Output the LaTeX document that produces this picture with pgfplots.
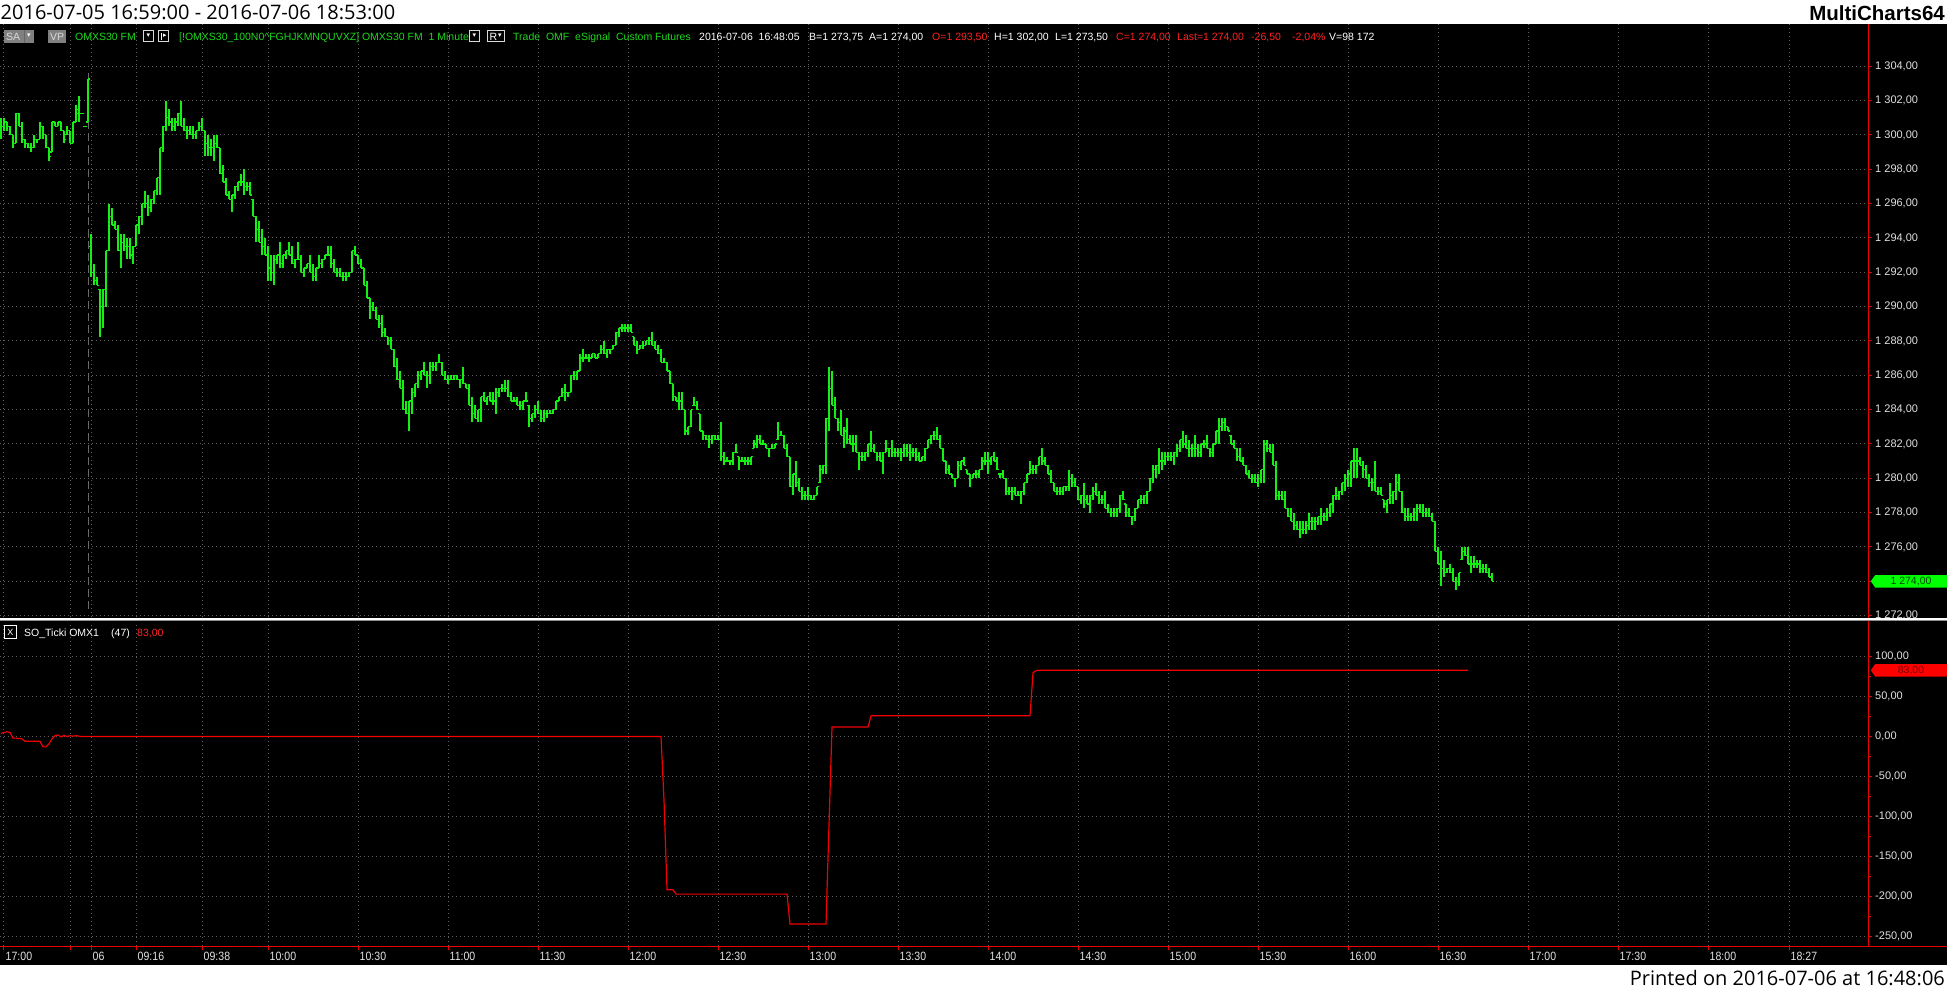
\documentclass[border=0pt]{standalone}
\usepackage{fontspec}
\setmainfont{Liberation Sans}
\newfontfamily\titlefont{Open Sans}
\newfontfamily\narrowfont[FakeStretch=0.88]{Liberation Sans}
\newfontfamily\symfont{DejaVu Sans}
\usepackage{pgfplots}
\usepackage{pgfplotstable}
\pgfplotsset{compat=1.18}
\usetikzlibrary{shapes.symbols}

\definecolor{barGreen}{RGB}{20,240,20}
\definecolor{hdrGreen}{RGB}{30,215,30}
\definecolor{axisRed}{RGB}{235,0,0}
\definecolor{indRed}{RGB}{240,0,0}
\definecolor{gridGray}{RGB}{95,95,95}
\definecolor{lblGray}{RGB}{225,225,225}
\definecolor{hdrRed}{RGB}{255,35,35}
\definecolor{tagGreen}{RGB}{0,255,0}
\definecolor{tagRed}{RGB}{255,0,0}
\definecolor{tagTextG}{RGB}{0,70,0}
\definecolor{tagTextR}{RGB}{120,0,0}
\definecolor{boxGray}{RGB}{128,128,128}
\definecolor{sessGray}{RGB}{105,105,105}

% open / close ticks of an OHLC bar
\pgfdeclareplotmark{otick}{\pgfpathmoveto{\pgfqpoint{-1.8pt}{0pt}}\pgfpathlineto{\pgfqpoint{0pt}{0pt}}\pgfusepathqstroke}
\pgfdeclareplotmark{ctick}{\pgfpathmoveto{\pgfqpoint{0pt}{0pt}}\pgfpathlineto{\pgfqpoint{1.8pt}{0pt}}\pgfusepathqstroke}

% 1-minute bars, i = bar index (09:00 on 07-06 = 28)
\pgfplotstableread{
i o h l c
-1 1300.5 1301 1299.75 1300.5
0 1300.5 1301 1300.25 1300.75
1 1300.75 1300.75 1300.25 1300.5
2 1300.5 1300.5 1300 1300
3 1300 1300 1299.25 1299.5
4 1299.5 1301.25 1299.5 1301.25
5 1301.25 1301.25 1300.5 1300.5
6 1300.5 1300.75 1299.5 1299.75
7 1299.75 1299.75 1299.25 1299.5
8 1299.5 1299.5 1299.25 1299.25
9 1299.25 1299.5 1299 1299.25
10 1299.25 1300 1299.25 1299.75
11 1299.75 1299.75 1299.5 1299.75
12 1299.75 1300.75 1299.75 1300.5
13 1300.5 1300.5 1299.75 1300
14 1300 1300 1299.25 1299.25
15 1299.25 1299.25 1298.5 1298.75
16 1299 1300.75 1299 1300.75
17 1300.75 1300.75 1300.5 1300.5
18 1300.5 1300.75 1300.5 1300.75
19 1300.75 1300.75 1300.25 1300.25
20 1300.25 1300.25 1299.5 1299.75
21 1300 1300.5 1300 1300.25
22 1300.25 1300.25 1299.5 1299.5
23 1299.5 1300.75 1299.5 1300.75
24 1300.75 1301.75 1300.75 1301.5
25 1301.25 1302.25 1300.75 1301.25
26 1301.25 1301.25 1301.25 1301.25
27 1300.5 1300.5 1300.5 1300.5
28 1300.75 1303.25 1300.75 1303.25
29 1293.5 1294.25 1291.75 1292
30 1292 1292.5 1291.25 1291.5
31 1291.5 1291.75 1291.25 1291.25
32 1291 1291 1288.25 1290
33 1290 1291 1288.75 1291
34 1291 1293.25 1290 1293.25
35 1293.25 1296 1293.25 1295.25
36 1295.25 1295.75 1294.75 1294.75
37 1294.75 1295 1294.5 1294.5
38 1294.5 1294.75 1293.25 1293.25
39 1293.25 1294.25 1292.25 1293.75
40 1293.75 1294.25 1293.25 1293.5
41 1293.5 1294 1292.75 1293.5
42 1293.5 1294 1292.75 1293
43 1293 1293.5 1292.5 1293.5
44 1293.5 1294.75 1293.5 1294.75
45 1294.75 1295.25 1294.25 1295.25
46 1295.25 1296 1294.75 1296
47 1296 1296.75 1295.75 1296
48 1296 1296.5 1295.25 1295.75
49 1295.75 1296.25 1295.5 1296.25
50 1296.25 1296.75 1296 1296.75
51 1296.75 1297.5 1296.5 1297.5
52 1297.5 1299.25 1296.5 1299.25
53 1299.25 1300.5 1299 1300.5
54 1300.5 1302 1300.25 1301
55 1301 1301.5 1300.5 1300.75
56 1300.75 1301 1300.25 1300.5
57 1300.5 1301 1300.25 1300.75
58 1300.75 1301.25 1300.5 1301.25
59 1301.25 1302 1300.5 1300.5
60 1300.5 1301 1300.25 1300.25
61 1300.25 1300.5 1299.75 1300.25
62 1300.25 1300.5 1300 1300
63 1300 1300.5 1299.75 1300
64 1300 1300.25 1299.75 1300.25
65 1300.25 1300.75 1300.25 1300.5
66 1300.5 1301 1300.25 1300.25
67 1300.25 1300.25 1298.75 1299.5
68 1299.5 1300 1298.75 1299.25
69 1299.25 1299.75 1298.75 1299.25
70 1299.25 1300 1298.5 1299.5
71 1299.5 1300 1299.25 1299.25
72 1299.25 1299.25 1297.75 1297.75
73 1297.75 1298.25 1297.25 1297.25
74 1297.25 1297.5 1296.5 1296.5
75 1296.5 1296.75 1296.25 1296.25
76 1296.25 1296.5 1295.5 1296.5
77 1296.5 1297 1296.25 1297
78 1297 1297.25 1296.75 1297.25
79 1297.25 1297.75 1297 1297.25
80 1297.25 1298 1296.5 1297
81 1297 1297.25 1296.75 1297
82 1297 1297.25 1296.5 1296.5
83 1296.25 1296.25 1295.25 1295.25
84 1295.25 1295.25 1293.75 1294.5
85 1294.5 1295 1293.75 1293.75
86 1293.75 1294.5 1293 1293.5
87 1293.5 1294 1293 1293
88 1293 1293.5 1291.5 1292.25
89 1292.25 1293 1291.5 1292
90 1292 1293 1291.25 1292.75
91 1292.75 1293 1292.5 1293
92 1293 1293.75 1292.25 1292.5
93 1292.5 1293 1292.25 1293
94 1293 1293.25 1292.75 1293.25
95 1293.25 1293.75 1293 1293
96 1293 1293.5 1292.5 1292.5
97 1292.5 1292.75 1292.25 1292.75
98 1292.75 1293.75 1292.75 1292.75
99 1292.75 1293 1292 1292
100 1292 1292.25 1291.75 1292.25
101 1292.25 1292.5 1292.25 1292.5
102 1292.5 1293 1292 1292
103 1292 1292.5 1291.5 1291.75
104 1291.75 1292.25 1291.5 1292.25
105 1292.25 1293 1292.25 1292.5
106 1292.5 1292.75 1292.25 1292.75
107 1292.75 1293 1292.75 1293
108 1293 1293.5 1293 1293
109 1293 1293.5 1292.25 1292.5
110 1292.5 1292.75 1292 1292
111 1292 1292.25 1291.75 1292
112 1292 1292.25 1291.75 1291.75
113 1291.75 1292 1291.5 1291.75
114 1291.75 1292 1291.5 1291.75
115 1291.75 1292 1291.75 1292
116 1292 1293.25 1292 1293.25
117 1293.25 1293.5 1293 1293
118 1293 1293 1292.5 1292.5
119 1292.5 1292.75 1292.25 1292.25
120 1292.25 1292.25 1291.25 1291.25
121 1291.25 1291.5 1290.5 1290.5
122 1290.5 1290.5 1289.25 1290
123 1290 1290.25 1289.75 1289.75
124 1289.75 1290 1289.25 1289.25
125 1289.25 1289.5 1288.75 1289
126 1289 1289.5 1288.25 1288.5
127 1288.5 1288.75 1288.25 1288.25
128 1288.25 1288.25 1287.75 1288
129 1288 1288.25 1287.5 1287.5
130 1287.5 1287.5 1286.5 1286.5
131 1286.5 1287 1285.75 1285.75
132 1285.75 1286.25 1285.25 1285.25
133 1285.25 1285.75 1284 1284
134 1284 1284.5 1283.75 1283.75
135 1283.75 1284.5 1282.75 1284.5
136 1284.5 1285.25 1283.75 1285
137 1285 1285.5 1284.75 1285.5
138 1285.5 1286.25 1285.25 1286
139 1286 1286.25 1285.75 1286.25
140 1286.25 1286.75 1286 1286
141 1286 1286.25 1285.25 1286
142 1286 1286.75 1285.5 1286.5
143 1286.5 1286.75 1286.25 1286.5
144 1286.5 1286.75 1286.25 1286.75
145 1286.75 1287.25 1286.75 1286.75
146 1286.75 1286.75 1286 1286
147 1286 1286.25 1285.75 1285.75
148 1285.75 1286 1285.5 1285.75
149 1285.75 1286 1285.75 1285.75
150 1285.75 1286 1285.75 1286
151 1286 1286 1285.75 1285.75
152 1285.75 1285.75 1285.25 1285.75
153 1285.75 1286.5 1285.5 1285.5
154 1285.5 1285.5 1285.25 1285.25
155 1285.25 1285.5 1284.25 1284.25
156 1284.25 1284.75 1283.25 1283.75
157 1283.75 1284.25 1283.5 1283.5
158 1283.5 1284 1283.25 1284
159 1284 1284.75 1283.25 1284.75
160 1284.75 1285 1284.5 1284.5
161 1284.5 1284.75 1284.25 1284.75
162 1284.75 1285 1284.5 1284.5
163 1284.5 1285 1284.25 1284.5
164 1284.5 1285.25 1283.75 1285
165 1285 1285.25 1284.75 1285.25
166 1285.25 1285.5 1285 1285.25
167 1285.25 1285.75 1285 1285.25
168 1285.25 1285.75 1284.75 1284.75
169 1284.75 1285 1284.5 1284.5
170 1284.5 1284.75 1284.5 1284.5
171 1284.5 1284.75 1284.25 1284.25
172 1284.25 1284.5 1284 1284.25
173 1284.25 1284.5 1284 1284.5
174 1284.5 1285 1284.5 1284.5
175 1284.25 1284.25 1283 1283.5
176 1283.5 1283.75 1283.25 1283.75
177 1283.75 1284.25 1283.5 1284
178 1284 1284.5 1283.75 1283.75
179 1283.75 1284 1283.25 1283.5
180 1283.5 1284 1283.25 1283.75
181 1283.75 1284 1283.5 1283.75
182 1283.75 1284 1283.75 1283.75
183 1283.75 1284 1283.75 1284
184 1284 1284.5 1284 1284.5
185 1284.5 1284.75 1284.5 1284.75
186 1284.75 1285.25 1284.75 1285
187 1285 1285.5 1284.5 1285
188 1285 1285 1284.75 1285
189 1285 1286 1285 1286
190 1286 1286.25 1285.75 1286
191 1286 1286.25 1285.75 1286.25
192 1286.25 1287.25 1286.25 1287
193 1287 1287.5 1286.75 1287
194 1287 1287.25 1287 1287
195 1287 1287.25 1286.75 1287
196 1287 1287.25 1287 1287.25
197 1287.25 1287.25 1287 1287
198 1287 1287.25 1287 1287.25
199 1287.25 1287.75 1287.25 1287.5
200 1287.5 1288 1287.25 1287.25
201 1287.25 1287.5 1287 1287.5
202 1287.5 1287.5 1287.25 1287.5
203 1287.5 1287.75 1287.5 1287.75
204 1287.75 1288.5 1287.75 1288.5
205 1288.5 1288.75 1288.25 1288.75
206 1288.75 1289 1288.5 1288.75
207 1288.75 1289 1288.5 1288.75
208 1288.75 1289 1288.5 1288.75
209 1288.75 1289 1288.5 1288.5
210 1288.25 1288.25 1287.75 1287.75
211 1287.75 1288 1287.25 1287.5
212 1287.5 1287.75 1287.5 1287.75
213 1287.75 1288 1287.5 1287.75
214 1287.75 1288 1287.75 1288
215 1288 1288.25 1287.75 1288
216 1288 1288.5 1287.75 1287.75
217 1287.75 1288 1287.5 1287.5
218 1287.5 1287.75 1287.25 1287.25
219 1287.25 1287.5 1286.75 1286.75
220 1286.75 1287 1286.75 1286.75
221 1286.75 1286.75 1286.25 1286.25
222 1286.25 1286.25 1285.5 1285.5
223 1285.5 1285.5 1284.5 1284.75
224 1284.75 1284.75 1284.5 1284.5
225 1284.5 1285 1284 1284.5
226 1284.5 1285 1284 1284
227 1284 1284 1282.5 1282.75
228 1282.75 1283 1282.5 1283
229 1283 1284 1283 1284
230 1284.25 1284.75 1284.25 1284.25
231 1284.25 1284.5 1284 1284
232 1283.75 1283.75 1282.75 1282.75
233 1282.75 1282.75 1282.25 1282.5
234 1282.5 1282.5 1282.25 1282.25
235 1282.25 1282.5 1281.75 1282.25
236 1282.25 1282.5 1282 1282.5
237 1282.5 1282.5 1282.25 1282.25
238 1282.25 1282.5 1282.25 1282.25
239 1282.25 1283.25 1281 1281.25
240 1281.25 1281.5 1280.75 1281
241 1281 1281.25 1281 1281
242 1281 1281 1280.75 1281
243 1281 1281.5 1280.75 1281.5
244 1281.5 1282 1281.5 1281.5
245 1281.25 1281.25 1280.5 1281
246 1281 1281.25 1281 1281
247 1281 1281.25 1280.75 1281
248 1281 1281.25 1280.75 1281
249 1281 1281.25 1280.75 1281.25
250 1281.75 1282.25 1281.75 1282
251 1282 1282.5 1281.75 1282.25
252 1282.25 1282.5 1282 1282
253 1282 1282.25 1282 1282
254 1282 1282 1281.75 1281.75
255 1281.75 1281.75 1281.25 1281.75
256 1281.75 1282 1281.75 1281.75
257 1281.75 1282 1281.75 1282
258 1282.25 1283.25 1282.25 1282.5
259 1282.5 1282.75 1282.5 1282.5
260 1282.5 1282.5 1281.75 1281.75
261 1281.75 1282 1281.25 1281.25
262 1281.25 1281.25 1279.5 1279.5
263 1279.5 1280.25 1279 1280.25
264 1280.25 1281 1279.5 1279.75
265 1279.75 1280 1279.25 1279.25
266 1279.25 1279.5 1278.75 1279
267 1279 1279.25 1278.75 1279
268 1279 1279.5 1278.75 1279
269 1279 1279 1278.75 1278.75
270 1278.75 1279 1278.75 1279
271 1279 1279.5 1279 1279.5
272 1279.75 1280.75 1279.75 1280.5
273 1280.5 1280.75 1280.25 1280.75
274 1280.75 1283.5 1280.25 1283.5
275 1283.5 1286.5 1282.75 1285.25
276 1285.25 1286.25 1284.25 1284.25
277 1284.25 1284.75 1283.5 1283.5
278 1283.5 1283.5 1282.75 1283.25
279 1283.25 1284 1282.5 1282.5
280 1282.5 1283 1281.75 1282.75
281 1282.75 1283.5 1282 1282.25
282 1282.25 1282.5 1282 1282
283 1282 1282.5 1281.5 1282
284 1282 1282.5 1281.5 1281.5
285 1281.5 1281.5 1280.5 1281.25
286 1281.25 1281.5 1281 1281.25
287 1281.25 1281.5 1281 1281.5
288 1281.5 1282 1281.25 1282
289 1282 1282.75 1281.5 1281.75
290 1281.75 1282 1281.5 1281.5
291 1281.5 1281.5 1281 1281.25
292 1281.25 1281.5 1281 1281
293 1281 1281.5 1280.25 1281.5
294 1281.5 1282.25 1281.5 1281.75
295 1281.75 1281.75 1281.25 1281.75
296 1281.75 1282.25 1281.25 1281.5
297 1281.5 1281.75 1281.25 1281.5
298 1281.5 1281.75 1281.25 1281.5
299 1281.5 1281.75 1281 1281.5
300 1281.5 1282 1281.25 1281.75
301 1281.75 1282 1281.25 1281.5
302 1281.5 1282 1281 1281.5
303 1281.5 1281.75 1281.25 1281.5
304 1281.5 1281.75 1281 1281.25
305 1281.25 1281.5 1281 1281
306 1281 1281.25 1281 1281.25
307 1281.25 1281.75 1281 1281.75
308 1281.75 1282.25 1281.75 1282.25
309 1282.25 1282.5 1282 1282.5
310 1282.5 1282.75 1282.25 1282.5
311 1282.5 1283 1282.25 1282.25
312 1282.25 1282.5 1281.75 1281.75
313 1281.75 1281.75 1281 1281
314 1281 1281 1280.25 1280.5
315 1280.5 1280.75 1280.25 1280.25
316 1280.25 1280.25 1280 1280
317 1280 1280 1279.5 1280
318 1280 1281 1280 1280.75
319 1280.75 1281 1280.5 1281
320 1281 1281.25 1280.75 1280.75
321 1280.5 1280.5 1280.25 1280.25
322 1280.25 1280.25 1279.5 1280
323 1280 1280.25 1280 1280.25
324 1280.25 1280.5 1280 1280.25
325 1280.25 1280.5 1280 1280.5
326 1280.5 1281.25 1280.5 1281
327 1281 1281.5 1280.75 1281
328 1281 1281.5 1280.25 1281
329 1281 1281.25 1280.75 1281.25
330 1281.25 1281.5 1281 1281
331 1281 1281.25 1280.5 1280.5
332 1280.25 1280.25 1280 1280.25
333 1280.25 1280.5 1280 1280
334 1280 1280 1279 1279.25
335 1279.25 1279.5 1279 1279.25
336 1279.25 1279.5 1278.75 1279.25
337 1279.25 1279.5 1279 1279
338 1279 1279.25 1279 1279
339 1279 1279.25 1278.5 1279.25
340 1279.25 1279.75 1279 1279.75
341 1279.75 1280.25 1279.75 1280.25
342 1280.25 1281 1280.25 1280.5
343 1280.5 1280.75 1280.25 1280.5
344 1280.5 1280.75 1280.25 1280.75
345 1280.75 1281.25 1280.75 1281.25
346 1281.25 1281.75 1280.75 1281
347 1281 1281.25 1280.75 1280.75
348 1280.75 1280.75 1280.25 1280.25
349 1280.25 1280.5 1279.75 1279.75
350 1279.75 1279.75 1279.25 1279.25
351 1279.25 1279.5 1279 1279.25
352 1279.25 1279.5 1279 1279.25
353 1279.25 1279.5 1279 1279.5
354 1279.5 1279.5 1279.25 1279.5
355 1279.5 1280.5 1279.25 1280
356 1280 1280.25 1279.5 1279.75
357 1279.75 1280 1279.5 1279.5
358 1279.5 1279.5 1278.75 1278.75
359 1278.75 1279 1278.5 1279
360 1279 1279.75 1278.25 1278.75
361 1278.75 1279 1278.5 1278.5
362 1278.5 1279 1278 1279
363 1279 1279.5 1278.75 1279.25
364 1279.25 1279.75 1279 1279
365 1279 1279.25 1278.5 1278.75
366 1278.75 1279 1278.5 1278.75
367 1278.75 1279.25 1278.25 1278.25
368 1278.25 1278.5 1278 1278
369 1278 1278.25 1277.75 1278
370 1278 1278.25 1277.75 1278
371 1278 1278.25 1277.75 1278.25
372 1278.25 1279 1278 1279
373 1279 1279.25 1278.75 1278.75
374 1278.5 1278.5 1277.75 1278
375 1278 1278.25 1277.75 1277.75
376 1277.75 1277.75 1277.25 1277.75
377 1277.75 1278.25 1277.5 1278.25
378 1278.25 1278.75 1278.25 1278.75
379 1278.75 1279 1278.5 1278.75
380 1278.75 1279 1278.5 1279
381 1279 1279.25 1278.5 1279.25
382 1279.25 1280 1279.25 1280
383 1280 1280.75 1279.75 1280.5
384 1280.5 1280.75 1280 1280.75
385 1280.75 1281.75 1280.25 1281
386 1281 1281.5 1280.5 1281
387 1281 1281.5 1280.75 1281.25
388 1281.25 1281.5 1281 1281.25
389 1281.25 1281.5 1281 1281.25
390 1281.25 1281.5 1280.75 1281.5
391 1281.5 1282 1281.25 1281.75
392 1281.75 1282.25 1281.5 1282.25
393 1282.25 1282.75 1281.75 1282
394 1282 1282.5 1281.75 1281.75
395 1281.75 1282.25 1281.25 1281.75
396 1281.75 1282 1281.25 1281.75
397 1281.75 1282.5 1281.25 1281.75
398 1281.75 1282 1281.25 1281.5
399 1281.5 1282 1281.25 1282
400 1282 1282.25 1281.75 1282
401 1282 1282.5 1281.75 1281.75
402 1281.75 1281.75 1281.25 1281.5
403 1281.5 1282 1281.25 1282
404 1282 1282.75 1282 1282.75
405 1282.75 1283.5 1282 1283
406 1283 1283.5 1282.75 1283.25
407 1283.25 1283.5 1282.75 1283
408 1283 1283 1282.75 1282.75
409 1282.5 1282.5 1282 1282
410 1282 1282.25 1281.75 1281.75
411 1281.75 1281.75 1281 1281.25
412 1281.25 1281.75 1281 1281
413 1281 1281.25 1280.75 1280.75
414 1280.75 1280.75 1280.25 1280.25
415 1280.25 1280.5 1280 1280
416 1280 1280.25 1279.75 1280
417 1280 1280.25 1279.75 1279.75
418 1279.75 1280.25 1279.5 1280
419 1280 1280.5 1279.75 1280.5
420 1280.5 1282.25 1279.75 1282
421 1282 1282.25 1281.5 1281.75
422 1281.75 1282 1281.5 1281.5
423 1281.5 1282 1280.75 1280.75
424 1280.75 1281 1278.75 1279
425 1279 1279.25 1278.75 1279
426 1279 1279.25 1278.75 1278.75
427 1278.75 1279.25 1278.25 1278.25
428 1278.25 1278.25 1277.75 1277.75
429 1277.75 1278.25 1277.5 1277.5
430 1277.5 1278 1277 1277.25
431 1277.25 1277.5 1277 1277
432 1277 1277.5 1276.5 1277
433 1277 1277.5 1276.75 1277
434 1277 1277.5 1276.75 1277.25
435 1277.25 1278 1277 1277.5
436 1277.5 1277.75 1277 1277.5
437 1277.5 1277.75 1277 1277.5
438 1277.5 1277.75 1277.25 1277.75
439 1277.75 1278.25 1277.25 1277.75
440 1277.75 1278 1277.5 1277.75
441 1277.75 1278.25 1277.5 1278
442 1278 1278.5 1277.75 1278.5
443 1278.5 1279 1278 1279
444 1279 1279.5 1278.75 1279
445 1279 1279.25 1278.75 1279.25
446 1279.25 1279.75 1279 1279.75
447 1279.75 1280.25 1279.25 1280
448 1280 1280.5 1279.5 1280.25
449 1280.25 1281 1279.5 1281
450 1281 1281.75 1280 1281
451 1281 1281.75 1280 1281
452 1281 1281.25 1280.75 1280.75
453 1280.75 1281 1280 1280.5
454 1280.5 1280.75 1280 1280
455 1280 1280.25 1279.5 1279.75
456 1279.75 1280 1279.25 1279.75
457 1279.75 1281 1279.25 1279.25
458 1279.25 1279.5 1279 1279.25
459 1279.25 1279.5 1279 1279
460 1278.75 1278.75 1278.25 1278.5
461 1278.5 1278.75 1278 1278.75
462 1278.75 1279.75 1278.5 1279
463 1279 1279.25 1278.5 1279.25
464 1279.25 1280.25 1278.75 1279.75
465 1279.75 1280.25 1279.25 1279.25
466 1279.25 1279.25 1278 1278
467 1278 1278.25 1277.5 1277.75
468 1277.75 1278.25 1277.5 1277.75
469 1277.75 1278 1277.5 1277.75
470 1277.75 1278.25 1277.5 1278
471 1278 1278.5 1277.5 1278.25
472 1278.25 1278.5 1278 1278
473 1278 1278.5 1277.75 1278
474 1278 1278.25 1277.75 1278
475 1278 1278.25 1277.75 1277.75
476 1277.75 1278 1277.5 1277.5
477 1277.5 1277.5 1275.75 1275.75
478 1275.75 1276 1275 1275
479 1275 1275.75 1273.75 1274.75
480 1274.75 1275.25 1274.25 1274.5
481 1274.5 1274.75 1274.5 1274.75
482 1274.75 1275 1274.5 1274.5
483 1274.5 1274.75 1274 1274
484 1274 1274.25 1273.5 1274
485 1274 1274.5 1273.75 1274.5
486 1275.25 1276 1275.25 1275.75
487 1275.75 1276 1275.5 1275.5
488 1275.5 1276 1275 1275
489 1275 1275.5 1274.5 1275
490 1275 1275.5 1274.75 1275
491 1275 1275.25 1274.75 1275
492 1275 1275.25 1274.5 1274.75
493 1274.75 1275 1274.5 1274.75
494 1274.75 1275 1274.5 1274.5
495 1274.5 1274.75 1274.25 1274.25
496 1274.25 1274.5 1274 1274
}\ohlc

% SO_Ticki OMX1 indicator
\pgfplotstableread{
i v
-1 4
0 5
1 6
2 5
3 -2
4 -2
5 -2.5
6 -3
7 -6
8 -6
9 -6
10 -6
11 -6
12 -6
13 -13
14 -13
15 -9
16 -3
17 1
18 2
19 -0.5
20 1.5
21 0
22 1
23 0.5
24 1
25 0.5
26 0
219 0
220 -80
221 -192
223 -192
224 -197.5
261 -197.5
262 -235
274 -235
275 -110
276 12
288 12
289 26
342 26
343 80
344 82.5
345 83
488 83
}\ind

\begin{document}
\begin{tikzpicture}[x=1pt,y=1pt,
  hdr/.style={anchor=base west, inner sep=0pt, font=\fontsize{10.5}{12}\selectfont},
  sym/.style={anchor=center, inner sep=0pt, font=\symfont\fontsize{7}{8}\selectfont, text=white},
  tag/.style={shape=signal, signal to=west, signal pointer angle=110, minimum height=12.5pt, minimum width=76pt, inner sep=0pt, anchor=east, font=\fontsize{10.5}{12}\selectfont}]
\useasboundingbox (0,0) rectangle (1947,-988);
\fill[white] (0,0) rectangle (1947,-988);
\fill[black] (0,-23.5) rectangle (1947,-965);
\coordinate (redge) at (1947,0);

% ---------- price panel ----------
\begin{axis}[
  at={(0pt,-24pt)}, anchor=north west,
  width=1868pt, height=593pt, scale only axis,
  xmin=-1.3333, xmax=621.3333, ymin=1271.918, ymax=1306.458,
  axis line style={draw=none},
  xtick={0,22,29,44,66,88,118,148,178,208,238,268,298,328,358,388,418,448,478,508,538,568,595},
  xticklabels={}, xtick style={draw=none},
  ytick={1272,1274,...,1304}, minor y tick num=1,
  ytick pos=right, yticklabel pos=right,
  tick align=outside, major tick length=4pt, minor tick length=2.5pt,
  y tick style={axisRed, line width=1pt},
  % the 1 274,00 label sits under the last-price tag
  yticklabels={1 272{,}00,,1 276{,}00,1 278{,}00,1 280{,}00,1 282{,}00,1 284{,}00,1 286{,}00,1 288{,}00,1 290{,}00,1 292{,}00,1 294{,}00,1 296{,}00,1 298{,}00,1 300{,}00,1 302{,}00,1 304{,}00},
  yticklabel style={font=\fontsize{11}{13}\selectfont, text=lblGray, anchor=west, inner sep=0pt, xshift=3pt},
  xmajorgrids, ymajorgrids,
  major grid style={gridGray, line width=1pt, dash pattern=on 1pt off 3pt},
]
\draw[sessGray, line width=1pt, dash pattern=on 8pt off 4pt] (axis cs:28,1303.6) -- (axis cs:28,1272.2);
\addplot[barGreen, line width=1.2pt, only marks, mark=otick,
  error bars/.cd, y dir=both, y explicit, error mark=none,
  error bar style={barGreen, line width=1.2pt}]
  table[x=i, y=o, y error plus expr={\thisrow{h}-\thisrow{o}}, y error minus expr={\thisrow{o}-\thisrow{l}}] {\ohlc};
\addplot[barGreen, line width=1.2pt, only marks, mark=ctick] table[x=i, y=c] {\ohlc};
\coordinate (lastp) at (axis cs:0,1274);
\end{axis}

% ---------- indicator panel ----------
\begin{axis}[
  at={(0pt,-622pt)}, anchor=north west,
  width=1868pt, height=324pt, scale only axis,
  xmin=-1.3333, xmax=621.3333, ymin=-262.5, ymax=143.5,
  axis line style={draw=none},
  xtick={0,22,29,44,66,88,118,148,178,208,238,268,298,328,358,388,418,448,478,508,538,568,595},
  xticklabels={17:00,,06,09:16,09:38,10:00,10:30,11:00,11:30,12:00,12:30,13:00,13:30,14:00,14:30,15:00,15:30,16:00,16:30,17:00,17:30,18:00,18:27},
  xtick pos=left,
  x tick style={axisRed, line width=1pt},
  xticklabel style={font=\narrowfont\fontsize{12}{14}\selectfont, text=lblGray, anchor=north west, inner sep=0pt, xshift=1.5pt, yshift=-2pt},
  ytick={-250,-200,...,100}, minor y tick num=1,
  ytick pos=right, yticklabel pos=right,
  tick align=outside, major tick length=4pt, minor tick length=2.5pt,
  y tick style={axisRed, line width=1pt},
  yticklabels={-250{,}00,-200{,}00,-150{,}00,-100{,}00,-50{,}00,0{,}00,50{,}00,100{,}00},
  yticklabel style={font=\fontsize{11}{13}\selectfont, text=lblGray, anchor=west, inner sep=0pt, xshift=3pt},
  xmajorgrids, ymajorgrids,
  major grid style={gridGray, line width=1pt, dash pattern=on 1pt off 3pt},
]
\addplot[indRed, line width=1.2pt, mark=none] table[x=i, y=v] {\ind};
\coordinate (lasti) at (axis cs:0,83);
\end{axis}

% ---------- frame lines ----------
\draw[axisRed, line width=1pt] (1868,-24) -- (1868,-946);
\draw[axisRed, line width=1pt] (0,-946) -- (1947,-946);
\fill[white] (0,-617.5) rectangle (1947,-619.8);
\fill[black!45] (0,-619.8) rectangle (1947,-621.3);

% ---------- last value tags ----------
\node[tag, fill=tagGreen, text=tagTextG] at (redge |- lastp) {1 274,00};
\node[tag, fill=tagRed, text=tagTextR] at (redge |- lasti) {83,00};

% ---------- window titles ----------
\node[anchor=base west, inner sep=0pt, font=\titlefont\fontsize{20}{24}\selectfont] at (0.5,-19.5) {2016-07-05 16:59:00 - 2016-07-06 18:53:00};
\node[anchor=base east, inner sep=0pt, font=\bfseries\fontsize{20.5}{24}\selectfont] at (1945,-20) {MultiCharts64};
\node[anchor=base east, inner sep=0pt, font=\titlefont\fontsize{20}{24}\selectfont] at (1945,-985) {Printed on 2016-07-06 at 16:48:06};

% ---------- chart header row ----------
\fill[boxGray] (4,-29.5) rectangle (34,-42.5);
\draw[black!60, line width=0.8pt] (24,-29.5) -- (24,-42.5);
\node[hdr, text=white!85!black] at (6,-40) {SA};
\node[sym] at (29,-36) {▾};
\fill[boxGray] (48,-29.5) rectangle (66,-42.5);
\node[hdr, text=white!85!black] at (50,-40) {VP};
\node[hdr, text=hdrGreen] at (75,-40) {OMXS30 FM};
\draw[white!85!black, line width=0.8pt] (143.5,-30.5) rectangle (153.5,-41.5);
\node[sym] at (148.5,-36) {▾};
\draw[white!85!black, line width=0.8pt] (158.5,-30.5) rectangle (168.5,-41.5);
\draw[white, line width=0.8pt] (161.5,-32.5) -- (161.5,-39.5);
\node[sym] at (165,-36) {▸};
\node[hdr, text=hdrGreen] at (179,-40) {[!OMXS30\_100N0\textasciicircum FGHJKMNQUVXZ] OMXS30 FM\ \ 1 Minute};
\draw[white!85!black, line width=0.8pt] (469.5,-30.5) rectangle (479.5,-41.5);
\node[sym] at (474.5,-36) {▾};
\draw[white!85!black, line width=0.8pt] (487.5,-30.5) rectangle (504.5,-41.5);
\node[hdr, text=white] at (489.5,-40) {R};
\node[sym] at (500,-36) {▾};
\node[hdr, text=hdrGreen] at (513,-40) {Trade\ \ OMF\ \ eSignal\ \ Custom Futures};
\node[hdr, text=white] at (699,-40) {2016-07-06\ \ 16:48:05};
\node[hdr, text=white] at (809,-40) {B=1 273,75};
\node[hdr, text=white] at (869,-40) {A=1 274,00};
\node[hdr, text=hdrRed] at (932,-40) {O=1 293,50};
\node[hdr, text=white] at (994,-40) {H=1 302,00};
\node[hdr, text=white] at (1055,-40) {L=1 273,50};
\node[hdr, text=hdrRed] at (1116,-40) {C=1 274,00};
\node[hdr, text=hdrRed] at (1177,-40) {Last=1 274,00};
\node[hdr, text=hdrRed] at (1251,-40) {-26,50};
\node[hdr, text=hdrRed] at (1292,-40) {-2,04\%};
\node[hdr, text=white] at (1329,-40) {V=98 172};

% ---------- indicator header ----------
\draw[white, line width=0.8pt] (4.5,-625.5) rectangle (16.5,-638.5);
\node[anchor=center, inner sep=0pt, text=white, font=\fontsize{9}{10}\selectfont] at (10.5,-632) {X};
\node[hdr, text=white] at (24,-636) {SO\_Ticki OMX1};
\node[hdr, text=white] at (111,-636) {(47)};
\node[hdr, text=hdrRed] at (137,-636) {83,00};
\end{tikzpicture}
\end{document}
